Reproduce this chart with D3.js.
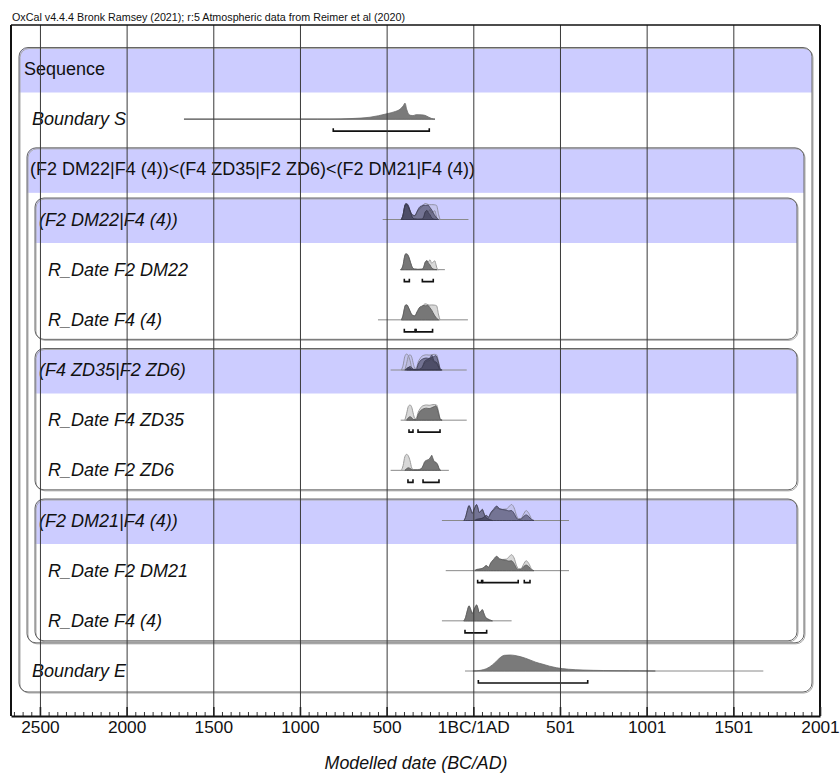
<!DOCTYPE html>
<html>
<head>
<meta charset="utf-8">
<script src="https://cdn.jsdelivr.net/npm/d3@7"></script>
<style>
  html, body { margin: 0; padding: 0; background: #fff; }
  svg text { font-family: "Liberation Sans", Arial, sans-serif; fill: #111; }
</style>
</head>
<body>
<svg id="chart" width="840" height="773"></svg>
<script>
// ---------------- DATA ----------------
const titleText = "OxCal v4.4.4 Bronk Ramsey (2021); r:5 Atmospheric data from Reimer et al (2020)";
const axisTitle = "Modelled date (BC/AD)";
const majorTicks = [-2500, -2000, -1500, -1000, -500, 0, 500, 1000, 1500, 2000];
const tickLabels = ["2500", "2000", "1500", "1000", "500", "1BC/1AD", "501", "1001", "1501", "2001"];
const minorStep = 50;

const rowLabels = [
  "Sequence",
  "Boundary S",
  "(F2 DM22|F4 (4))<(F4 ZD35|F2 ZD6)<(F2 DM21|F4 (4))",
  "(F2 DM22|F4 (4))",
  "R_Date F2 DM22",
  "R_Date F4 (4)",
  "(F4 ZD35|F2 ZD6)",
  "R_Date F4 ZD35",
  "R_Date F2 ZD6",
  "(F2 DM21|F4 (4))",
  "R_Date F2 DM21",
  "R_Date F4 (4)",
  "Boundary E"
];
const rowKinds = ["seq", "boundary", "phase", "sub", "date", "date", "sub", "date", "date", "sub", "date", "date", "boundary"];

// Boundary S
const bndSPost = [[-1669,0],[-900,0],[-827,0],[-700,0.04],[-596,0.12],[-498,0.34],[-450,0.48],[-423,0.62],[-405,0.82],[-394,1],[-384,0.6],[-372,0.3],[-362,0.24],[-348,0.22],[-330,0.28],[-300,0.27],[-280,0.24],[-260,0.14],[-240,0.04],[-221,0]];
const bndSRange = [-1669, -221];
const bndSHpd = [[-808, -254]];

// R_Date F2 DM22
const dm22Like = [[-418,0],[-405,0.28],[-398,0.7],[-390,0.95],[-382,0.93],[-372,0.75],[-362,0.42],[-352,0.14],[-340,0.04],[-320,0.02],[-295,0.03],[-285,0.2],[-278,0.45],[-268,0.56],[-258,0.5],[-250,0.62],[-240,0.4],[-230,0.5],[-222,0.55],[-215,0.3],[-208,0.05],[-200,0]];
const dm22Post = [[-418,0],[-405,0.3],[-398,0.75],[-390,1],[-382,0.98],[-372,0.8],[-362,0.45],[-352,0.15],[-340,0.04],[-320,0.02],[-295,0.03],[-285,0.2],[-278,0.45],[-268,0.56],[-258,0.4],[-250,0.3],[-240,0.1],[-225,0.02],[-210,0]];
const dm22Range = [-423, -164];
const dm22Hpd = [[-398, -369], [-294, -231]];

// R_Date F4 (4)  (first phase)
const f4aLike = [[-415,0],[-405,0.28],[-398,0.65],[-392,0.87],[-383,0.9],[-375,0.77],[-365,0.52],[-352,0.28],[-337,0.22],[-325,0.45],[-308,0.7],[-290,0.85],[-280,1.0],[-268,0.98],[-255,0.92],[-240,0.93],[-225,0.92],[-212,0.88],[-200,0.3],[-192,0]];
const f4aPost = [[-415,0],[-405,0.3],[-398,0.7],[-392,0.92],[-383,0.94],[-375,0.8],[-365,0.55],[-352,0.3],[-337,0.25],[-325,0.5],[-308,0.8],[-298,0.85],[-290,0.9],[-275,0.88],[-262,0.9],[-250,0.75],[-240,0.6],[-225,0.3],[-210,0.08],[-200,0]];
const f4aRange = [-550, -31];
const f4aHpd = [[-398, -336], [-330, -235]];

// R_Date F4 ZD35
const zd35Like = [[-395,0],[-385,0.4],[-375,0.85],[-365,0.95],[-355,0.8],[-345,0.35],[-337,0.1],[-328,0.15],[-318,0.5],[-308,0.7],[-298,0.85],[-285,0.92],[-270,0.95],[-255,0.93],[-240,0.96],[-225,0.98],[-212,0.95],[-200,0.5],[-190,0.05],[-180,0]];
const zd35Post = [[-385,0],[-375,0.15],[-365,0.22],[-355,0.15],[-345,0.04],[-330,0.03],[-318,0.35],[-308,0.55],[-298,0.65],[-285,0.72],[-270,0.75],[-255,0.72],[-240,0.78],[-225,0.85],[-218,0.9],[-210,0.8],[-200,0.4],[-190,0.05],[-180,0]];
const zd35Range = [-419, -38];
const zd35Hpd = [[-371, -348], [-319, -192]];

// R_Date F2 ZD6
const zd6Like = [[-415,0],[-405,0.3],[-395,0.85],[-385,1.0],[-375,0.9],[-365,0.6],[-355,0.15],[-345,0.05],[-320,0.05],[-300,0.1],[-290,0.25],[-280,0.45],[-265,0.55],[-250,0.6],[-240,0.7],[-232,0.55],[-222,0.45],[-212,0.4],[-200,0.15],[-190,0]];
const zd6Post = [[-395,0],[-385,0.1],[-375,0.16],[-365,0.12],[-355,0.05],[-345,0.02],[-320,0.02],[-300,0.1],[-290,0.3],[-280,0.55],[-265,0.65],[-255,0.7],[-245,0.85],[-240,0.94],[-233,0.75],[-225,0.55],[-215,0.5],[-205,0.35],[-195,0.05],[-188,0]];
const zd6Range = [-477, -141];
const zd6Hpd = [[-377, -348], [-290, -198]];

// R_Date F2 DM21
const dm21Like = [[0,0],[20,0.06],[45,0.1],[60,0.18],[75,0.3],[88,0.2],[100,0.42],[115,0.6],[135,0.8],[150,0.72],[170,0.7],[190,0.72],[205,0.85],[220,1.0],[235,0.8],[250,0.3],[262,0.12],[275,0.12],[290,0.4],[305,0.62],[320,0.45],[335,0.12],[350,0]];
const dm21Post = [[10,0],[20,0.08],[45,0.12],[60,0.2],[75,0.32],[88,0.22],[100,0.48],[115,0.68],[135,0.9],[150,0.75],[170,0.68],[190,0.65],[205,0.6],[220,0.62],[235,0.45],[250,0.15],[262,0.06],[275,0.08],[290,0.25],[305,0.35],[320,0.25],[335,0.06],[350,0]];
const dm21Range = [-159, 552];
const dm21Hpd = [[25, 48], [54, 259], [294, 327]];

// R_Date F4 (4)  (third phase)
const f4bLike = [[-55,0],[-45,0.2],[-35,0.6],[-25,0.9],[-15,0.7],[-6,0.45],[5,0.7],[19,0.95],[27,0.75],[34,0.5],[45,0.6],[52,0.7],[60,0.5],[70,0.25],[85,0.12],[100,0.04],[110,0]];
const f4bPost = [[-55,0],[-45,0.2],[-35,0.62],[-25,0.94],[-15,0.72],[-6,0.45],[5,0.72],[19,1.0],[27,0.78],[34,0.5],[45,0.62],[52,0.7],[60,0.48],[70,0.22],[85,0.1],[100,0.03],[110,0]];
const f4bRange = [-181, 221];
const f4bHpd = [[-48, 77]];

// Boundary E
const bndEPost = [[-2,0],[40,0.04],[77,0.15],[110,0.38],[135,0.63],[160,0.88],[180,0.98],[210,1.0],[240,0.97],[270,0.9],[300,0.8],[327,0.69],[360,0.55],[402,0.42],[440,0.3],[481,0.2],[550,0.11],[633,0.06],[750,0.03],[900,0.015],[1050,0]];
const bndERange = [-48, 1673];
const bndEHpd = [[29, 660]];

// Phase (header) summary line ranges
const sub1Range = [-523, -28];
const sub2Range = [-477, -38];
const sub3Range = [-181, 552];

// ---------------- CHART ----------------
const svg = d3.select("#chart");
const frame = { left: 11, right: 820, top: 25, bottom: 716 };

const x = d3.scaleLinear().domain([-2667, 2000]).range([frame.left, frame.right]);
const rowY = d3.scalePoint().domain(d3.range(rowLabels.length)).range([69, 671]);
const hY = d3.scaleLinear().domain([0, 1]).range([0, 16]);

const rows = {
  1: { kind: "boundary", range: bndSRange, post: [bndSPost], hpd: bndSHpd },
  3: { kind: "header", range: sub1Range, like: [dm22Like, f4aLike], post: [dm22Post, f4aPost] },
  4: { kind: "date", range: dm22Range, like: [dm22Like], post: [dm22Post], hpd: dm22Hpd },
  5: { kind: "date", range: f4aRange, like: [f4aLike], post: [f4aPost], hpd: f4aHpd },
  6: { kind: "header", range: sub2Range, like: [zd35Like, zd6Like], post: [zd35Post, zd6Post] },
  7: { kind: "date", range: zd35Range, like: [zd35Like], post: [zd35Post], hpd: zd35Hpd },
  8: { kind: "date", range: zd6Range, like: [zd6Like], post: [zd6Post], hpd: zd6Hpd },
  9: { kind: "header", range: sub3Range, like: [dm21Like, f4bLike], post: [dm21Post, f4bPost] },
  10: { kind: "date", range: dm21Range, like: [dm21Like], post: [dm21Post], hpd: dm21Hpd },
  11: { kind: "date", range: f4bRange, like: [f4bLike], post: [f4bPost], hpd: f4bHpd },
  12: { kind: "boundary", range: bndERange, post: [bndEPost], hpd: bndEHpd }
};

// Title
svg.append("text")
  .attr("x", 12).attr("y", 20.5)
  .attr("font-size", 11)
  .attr("textLength", 393).attr("lengthAdjust", "spacingAndGlyphs")
  .text(titleText);

// ---- Boxes (sequence / phases) ----
const boxes = [
  { start: 0, end: 12, x0: 19, x1: 812, padB: 21 },
  { start: 2, end: 11, x0: 27, x1: 804, padB: 22 },
  { start: 3, end: 5, x0: 35, x1: 797, padB: 19.5 },
  { start: 6, end: 8, x0: 35, x1: 797, padB: 19.5 },
  { start: 9, end: 11, x0: 35, x1: 797, padB: 20 }
];
const gBoxes = svg.append("g");
const defs = svg.append("defs");
boxes.forEach((b, i) => {
  const top = rowY(b.start) - 21.5;
  const bottom = rowY(b.end) + b.padB;
  const bandBottom = rowY(b.start) + 23.5;
  const cid = "clip" + i;
  defs.append("clipPath").attr("id", cid)
    .append("rect").attr("x", b.x0).attr("y", top)
    .attr("width", b.x1 - b.x0).attr("height", bottom - top).attr("rx", 9);
  gBoxes.append("rect")
    .attr("x", b.x0).attr("y", top).attr("width", b.x1 - b.x0).attr("height", bottom - top)
    .attr("rx", 9).attr("fill", "#fff");
  gBoxes.append("rect")
    .attr("clip-path", `url(#${cid})`)
    .attr("x", b.x0).attr("y", top).attr("width", b.x1 - b.x0).attr("height", bandBottom - top)
    .attr("fill", "#ccccff");
  gBoxes.append("rect")
    .attr("x", b.x0 + 1).attr("y", top + 1).attr("width", b.x1 - b.x0).attr("height", bottom - top)
    .attr("rx", 9).attr("fill", "none").attr("stroke", "#aaa").attr("stroke-width", 1);
  gBoxes.append("rect")
    .attr("x", b.x0).attr("y", top).attr("width", b.x1 - b.x0).attr("height", bottom - top)
    .attr("rx", 9).attr("fill", "none").attr("stroke", "#666").attr("stroke-width", 1);
});

// ---- Row labels ----
const labelX = { seq: 24, boundary: 32, phase: 30, sub: 39, date: 48 };
svg.append("g").selectAll("text").data(rowLabels).join("text")
  .attr("x", (d, i) => labelX[rowKinds[i]])
  .attr("y", (d, i) => rowY(i) + 6)
  .attr("font-size", 18)
  .attr("font-style", (d, i) => (rowKinds[i] === "seq" || rowKinds[i] === "phase") ? "normal" : "italic")
  .text(d => d);

// ---- Distributions ----
const area = (base) => d3.area()
  .x(d => x(d[0]))
  .y0(base)
  .y1(d => base - hY(d[1]))
  .curve(d3.curveMonotoneX);

const gDist = svg.append("g");
Object.entries(rows).forEach(([idx, r]) => {
  const base = rowY(+idx);
  const a = area(base);
  gDist.append("line")
    .attr("x1", x(r.range[0])).attr("x2", x(r.range[1]))
    .attr("y1", base).attr("y2", base)
    .attr("stroke", "#8a8a8a").attr("stroke-width", 1);
  if (r.kind === "header") {
    r.like.forEach(s => gDist.append("path").attr("d", a(s))
      .attr("fill", "#999").attr("fill-opacity", 0.18)
      .attr("stroke", "#8c8c9c").attr("stroke-width", 0.9));
    r.post.forEach(s => gDist.append("path").attr("d", a(s))
      .attr("fill", "#33334a").attr("fill-opacity", 0.55)
      .attr("stroke", "#3a3a50").attr("stroke-width", 0.8));
  } else if (r.kind === "date") {
    r.like.forEach(s => gDist.append("path").attr("d", a(s))
      .attr("fill", "#d8d8d8").attr("stroke", "#9c9c9c").attr("stroke-width", 1));
    r.post.forEach(s => gDist.append("path").attr("d", a(s))
      .attr("fill", "#6f6f6f").attr("fill-opacity", 0.92)
      .attr("stroke", "#555").attr("stroke-width", 0.8));
  } else {
    r.post.forEach(s => gDist.append("path").attr("d", a(s))
      .attr("fill", "#7a7a7a").attr("stroke", "#6a6a6a").attr("stroke-width", 0.8));
  }
  if (r.hpd) {
    const by = base + 12;
    r.hpd.forEach(h => {
      gDist.append("path")
        .attr("d", `M${x(h[0])},${by - 3}V${by}H${x(h[1])}V${by - 3}`)
        .attr("fill", "none").attr("stroke", "#111").attr("stroke-width", 1.6);
    });
  }
});

// ---- Gridlines (on top) ----
const grid = svg.append("g").attr("transform", `translate(0,${frame.bottom})`)
  .call(d3.axisBottom(x).tickValues(majorTicks).tickSizeInner(-(frame.bottom - frame.top)).tickSizeOuter(0).tickFormat(""));
grid.select(".domain").remove();
grid.selectAll("line").attr("stroke", "#3a3a3a").attr("stroke-width", 1);

// ---- Frame ----
svg.append("line").attr("x1", frame.left).attr("x2", frame.right).attr("y1", frame.top).attr("y2", frame.top)
  .attr("stroke", "#111").attr("stroke-width", 1.5);
svg.append("line").attr("x1", frame.left).attr("x2", frame.left).attr("y1", frame.top).attr("y2", frame.bottom)
  .attr("stroke", "#111").attr("stroke-width", 2);
svg.append("line").attr("x1", frame.right).attr("x2", frame.right).attr("y1", frame.top).attr("y2", frame.bottom)
  .attr("stroke", "#111").attr("stroke-width", 2);

// ---- Axis ----
const minorTicks = d3.range(-2650, 2001, minorStep).filter(v => !majorTicks.includes(v));
const minor = svg.append("g").attr("transform", `translate(0,${frame.bottom})`)
  .call(d3.axisBottom(x).tickValues(minorTicks).tickSizeInner(-4).tickSizeOuter(0).tickFormat(""));
minor.select(".domain").remove();
minor.selectAll("line").attr("stroke", "#333").attr("stroke-width", 1);

const axis = svg.append("g").attr("transform", `translate(0,${frame.bottom})`)
  .call(d3.axisBottom(x).tickValues(majorTicks).tickSizeInner(-9).tickSizeOuter(0).tickPadding(5)
    .tickFormat((d, i) => tickLabels[i]));
axis.select(".domain").attr("stroke", "#111").attr("stroke-width", 2);
axis.selectAll(".tick line").attr("stroke", "#222").attr("stroke-width", 1.6);
axis.selectAll(".tick text")
  .attr("font-family", "'Liberation Sans', Arial, sans-serif")
  .attr("font-size", 17.3).attr("fill", "#111");

svg.append("text")
  .attr("x", 416).attr("y", 769)
  .attr("text-anchor", "middle")
  .attr("font-size", 17.8).attr("font-style", "italic")
  .text(axisTitle);
</script>
</body>
</html>
